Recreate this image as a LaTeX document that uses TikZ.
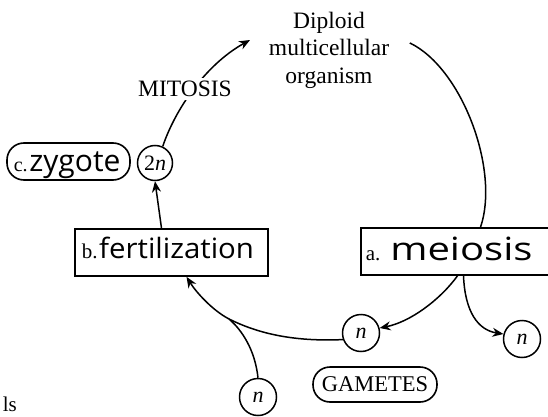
\documentclass[tikz,border=0pt]{standalone}
\usepackage{fontspec}
\setmainfont{Liberation Serif}
\newfontfamily\hand{Open Sans}
\usetikzlibrary{arrows.meta}
\begin{document}
\begin{tikzpicture}[x=1pt,y=-1pt,line width=1.5pt,
  box/.style={draw,rectangle,inner sep=0pt,line width=1.6pt},
  rbox/.style={draw,rectangle,rounded corners=17pt,inner sep=0pt,line width=1.6pt},
  cell/.style={draw,circle,inner sep=0pt,minimum size=37pt,line width=1.5pt,font=\fontsize{22}{22}\selectfont},
  lbl/.style={font=\fontsize{23.5}{27.5}\selectfont,inner sep=0pt},
  flow/.style={-{Stealth[length=11pt,width=9pt]}}]
\useasboundingbox (0,0) rectangle (548,417);

% nodes
\node[lbl,align=center,anchor=north] (dip) at (329,11) {Diploid\\multicellular\\organism};
\node[cell,minimum size=35pt] (zyg) at (155,163) {2\textit{n}};
\node[rbox,minimum width=123pt,minimum height=37pt] (cbox) at (68.5,161.5) {};
\node[anchor=base west,inner sep=0pt] (ctxt) at (13,171)
  {{\fontsize{20}{20}\selectfont c.}\,{\hand\fontsize{30}{30}\selectfont zygote}};
\node[box,minimum width=193pt,minimum height=47pt] (bbox) at (171.5,252.5) {};
\node[anchor=base west,inner sep=0pt] (btxt) at (81,258)
  {{\fontsize{21}{21}\selectfont b.}\,\scalebox{1.05}[1]{\hand\fontsize{28}{28}\selectfont fertilization}};
\node[box,minimum width=199pt,minimum height=47pt] (abox) at (460.5,251.5) {};
\node[anchor=base west,inner sep=0pt] (atxt) at (365,260)
  {{\fontsize{21}{21}\selectfont a.}\hspace{10pt}\scalebox{1.25}[1]{\hand\fontsize{32}{32}\selectfont meiosis}};
\node[cell] (n1) at (361,333) {\textit{n}};
\node[cell] (n2) at (522,339) {\textit{n}};
\node[cell] (n3) at (258,397) {\textit{n}};
\node[rbox,minimum width=124pt,minimum height=35pt,font=\fontsize{22.5}{22.5}\selectfont] (gam) at (375,384.5) {GAMETES};
\node[anchor=base west,inner sep=0pt,font=\fontsize{21}{21}\selectfont] (ls) at (2,411) {ls};

% connectors
\coordinate (tipA) at (250,40);
\draw[flow] (zyg.65) .. controls (175,110) and (205,65) .. (tipA);
\node[lbl,fill=white,inner sep=3pt] (mit) at (185,89) {MITOSIS};

\draw ([xshift=20pt,yshift=7pt]dip.east) .. controls (462,68) and (500,170) .. ([xshift=20pt]abox.north);
\draw[flow] ([xshift=-10pt]bbox.north) -- (zyg.south);
\draw[flow] ([xshift=-3pt]abox.south) .. controls (440,300) and (410,322) .. (n1.15);
\draw[flow] ([xshift=3pt]abox.south) .. controls (465,312) and (478,330) .. (n2.165);

\coordinate (merge) at (229,319);
\draw (n1.200) .. controls (290,342) and (255,332) .. (merge);
\draw[flow] (merge) .. controls (212,310) and (196,292) .. ([xshift=15pt]bbox.south);
\draw (n3.north) .. controls (255,350) and (242,330) .. (merge);
\end{tikzpicture}
\end{document}
